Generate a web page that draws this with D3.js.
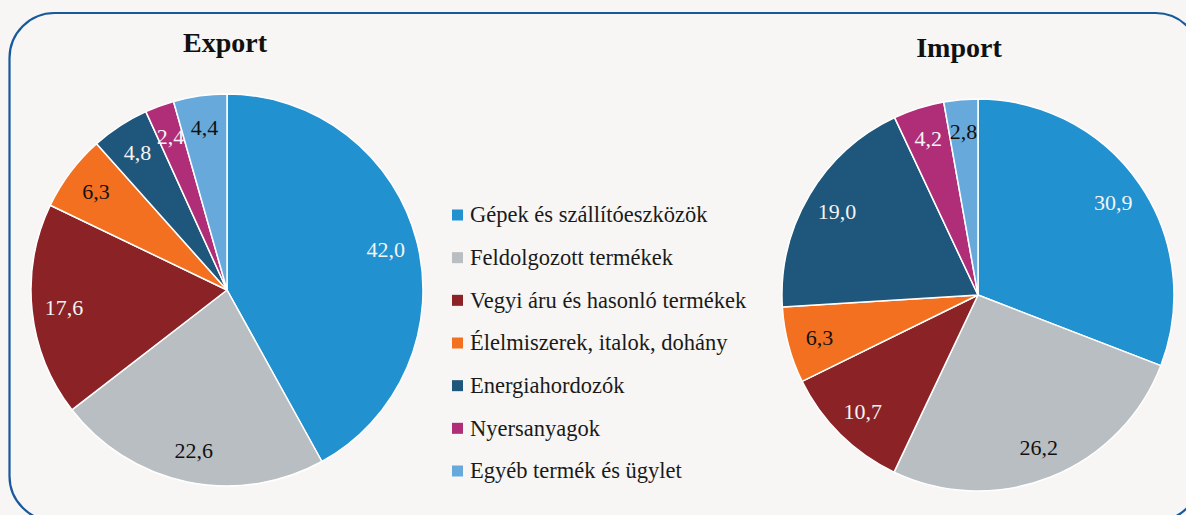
<!DOCTYPE html>
<html><head><meta charset="utf-8">
<script src="https://cdn.jsdelivr.net/npm/d3@7/dist/d3.min.js"></script>
<style>
html,body{margin:0;padding:0;background:#f7f6f4;}
svg{display:block;}
</style></head>
<body>
<svg id="chart" width="1186" height="515"></svg>
<script>
const categories = ["Gépek és szállítóeszközök","Feldolgozott termékek","Vegyi áru és hasonló termékek","Élelmiszerek, italok, dohány","Energiahordozók","Nyersanyagok","Egyéb termék és ügylet"];
const exportValues = [42.0, 22.6, 17.6, 6.3, 4.8, 2.4, 4.4];
const importValues = [30.9, 26.2, 10.7, 6.3, 19.0, 4.2, 2.8];
const chartTitles = ["Export", "Import"];

const colors = ["#2191d0","#b9bec2","#8b2226","#f37021","#1f567b","#b02e78","#68a9dc"];
const labelColors = ["#f4f4f4","#111111","#f4f4f4","#111111","#f4f4f4","#f4f4f4","#111111"];
const serif = "'Liberation Serif','Times New Roman',serif";

const svg = d3.select("#chart");
svg.append("rect").attr("width",1186).attr("height",515).attr("fill","#f7f6f4");
svg.append("rect").attr("x",9.5).attr("y",13).attr("width",1191).attr("height",508)
  .attr("rx",45).attr("ry",45).attr("fill","none").attr("stroke","#17599b").attr("stroke-width",2.2);

const pie = d3.pie().sort(null).value(d=>d);
const R = 196;
const arc = d3.arc().innerRadius(0).outerRadius(R);
const labelArc = d3.arc().innerRadius(164).outerRadius(164);
const fmt = v => d3.format(".1f")(v).replace(".", ",");

function drawPie(values, cx, cy, title, tx, ty){
  const g = svg.append("g").attr("transform",`translate(${cx},${cy})`);
  const arcs = pie(values).map((a,i)=>Object.assign(a,{idx:i}));
  g.selectAll("path.slice").data(arcs).join("path").attr("class","slice")
    .attr("d",arc).attr("fill",d=>colors[d.idx]).attr("stroke","#ffffff").attr("stroke-width",1.5)
    .attr("stroke-linejoin","round");
  g.selectAll("text.lbl").data(arcs).join("text").attr("class","lbl")
    .attr("transform",d=>`translate(${labelArc.centroid(d)})`)
    .attr("text-anchor","middle").attr("dy","0.35em")
    .attr("font-family",serif).attr("font-size",22)
    .attr("fill",d=>labelColors[d.idx]).text(d=>fmt(d.data));
  svg.append("text").attr("x",tx).attr("y",ty).attr("text-anchor","middle")
    .attr("font-family",serif).attr("font-weight","bold").attr("font-size",28)
    .attr("fill","#111").text(title);
}
drawPie(exportValues, 227, 290, chartTitles[0], 225, 52);
drawPie(importValues, 978, 295, chartTitles[1], 959, 57);

const leg = svg.append("g").attr("transform","translate(452,0)");
const legY = d3.scaleLinear().domain([0, categories.length-1]).range([215, 471]);
const items = leg.selectAll("g").data(categories).join("g")
  .attr("transform",(d,i)=>`translate(0,${legY(i)})`);
items.append("rect").attr("x",0).attr("y",-5.5).attr("width",11).attr("height",11)
  .attr("fill",(d,i)=>colors[i]);
items.append("text").attr("x",18).attr("dy","0.33em")
  .attr("font-family",serif).attr("font-size",22.5).attr("fill","#1a1a1a").text(d=>d);
</script>
</body></html>
